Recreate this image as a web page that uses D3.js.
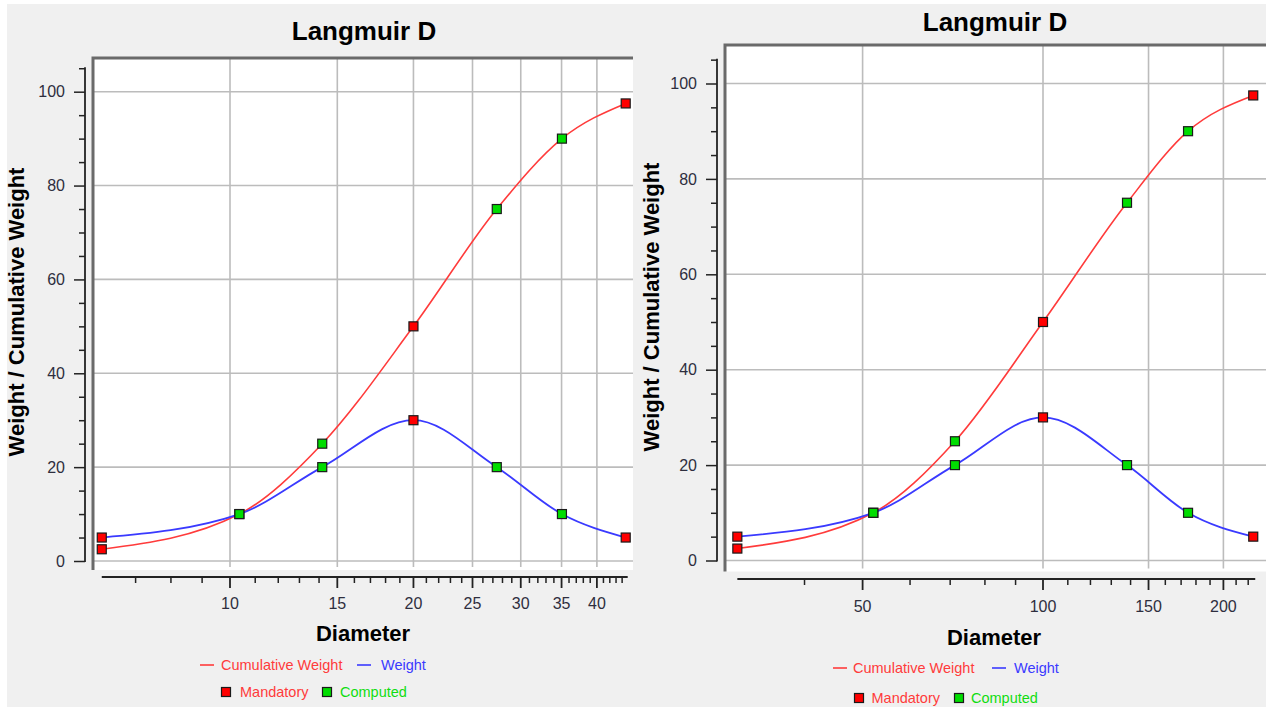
<!DOCTYPE html>
<html>
<head>
<meta charset="utf-8">
<script src="https://cdn.jsdelivr.net/npm/d3@7"></script>
<style>
  html, body { margin:0; padding:0; background:#fff; }
  svg { display:block; font-family:"Liberation Sans", Arial, sans-serif; }
</style>
</head>
<body>
<svg id="chart" width="1266" height="707"></svg>
<script>
// values
var diamLeft  = [6.16, 10.36, 14.17, 20, 27.4, 35.05, 44.6];
var diamRight = [30.9, 52.1, 71.3, 100, 138.1, 174.6, 224.3];
var cumWeight = [2.5, 10, 25, 50, 75, 90, 97.5];
var weight    = [5, 10, 20, 30, 20, 10, 5];
var pointKind = ['Mandatory','Computed','Computed','Mandatory','Computed','Computed','Mandatory'];
var leftMajor  = [10, 15, 20, 25, 30, 35, 40];
var rightMajor = [50, 100, 150, 200];
var yTicks = [0, 20, 40, 60, 80, 100];

var cRed = '#ff3b3b', cBlue = '#3a3aff', cGreen = '#11dd11';
var fillFor = { Mandatory:'#ff0000', Computed:'#00dd00' };

var svg = d3.select('#chart');
svg.append('rect').attr('x',7).attr('y',4).attr('width',1259).attr('height',703).attr('fill','#f0f0f0');

var panels = [
  { diam: diamLeft, major: leftMajor,
    minor: d3.range(7, 45).filter(function(v){ return leftMajor.indexOf(v) < 0; }),
    xDom:[10,40], xRange:[230,596.9], yRange:[561,91.7],
    plot:{x0:93, x1:633, y0:58, y1:570},
    yAxisX:85, xAxisY:577, xLabelY:609, yLabelX:65,
    title:{x:364, y:40}, xTitle:{x:363, y:641}, yTitle:{x:24, y:312},
    leg:{r1:665, r2:692, d1:200, t1:221, d2:357, t2:381, s1:226, ts1:240, s2:327, ts2:340} },
  { diam: diamRight, major: rightMajor,
    minor: d3.range(40, 221, 10).filter(function(v){ return rightMajor.indexOf(v) < 0; }),
    xDom:[50,100], xRange:[862.6,1043], yRange:[560.5,83.5],
    plot:{x0:725, x1:1266, y0:45, y1:571.5},
    yAxisX:717, xAxisY:579, xLabelY:612, yLabelX:697,
    title:{x:995, y:31}, xTitle:{x:994, y:645}, yTitle:{x:659, y:307},
    leg:{r1:668, r2:698, d1:833, t1:853, d2:992, t2:1014, s1:859, ts1:871.5, s2:959, ts2:971} }
];

panels.forEach(function(p){
  var g = svg.append('g');
  var x = d3.scaleLog().domain(p.xDom).range(p.xRange);
  var y = d3.scaleLinear().domain([0,100]).range(p.yRange);
  var pl = p.plot;

  // plot area
  g.append('rect').attr('x',pl.x0).attr('y',pl.y0).attr('width',pl.x1-pl.x0).attr('height',pl.y1-pl.y0).attr('fill','#fff');

  // grid
  g.selectAll('.hg').data(yTicks).enter().append('line')
    .attr('x1',pl.x0).attr('x2',pl.x1)
    .attr('y1',function(d){ return y(d); }).attr('y2',function(d){ return y(d); })
    .attr('stroke','#bcbcbc').attr('stroke-width',1.6);
  g.selectAll('.vg').data(p.major).enter().append('line')
    .attr('x1',function(d){ return x(d); }).attr('x2',function(d){ return x(d); })
    .attr('y1',pl.y0).attr('y2',pl.y1-3)
    .attr('stroke','#bcbcbc').attr('stroke-width',1.6);

  // frame (top + left)
  g.append('path').attr('d','M'+pl.x0+','+pl.y1+'V'+pl.y0+'H'+pl.x1)
    .attr('fill','none').attr('stroke','#6a6a6a').attr('stroke-width',3);

  // y axis
  var yAx = g.append('g').attr('transform','translate('+p.yAxisX+',0)');
  yAx.call(d3.axisLeft(y).tickValues(d3.range(0,106,5)).tickSize(6).tickFormat(''))
  yAx.select('.domain').remove();
  yAx.selectAll('.tick line').attr('stroke','#222').attr('stroke-width',1.5)
    .attr('x2', function(d){ return d % 20 === 0 ? -11 : -6; });
  yAx.append('line').attr('x1',0).attr('x2',0).attr('y1',y(0)+1).attr('y2',y(105)-1)
    .attr('stroke','#222').attr('stroke-width',1.8);
  g.selectAll('.yl').data(yTicks).enter().append('text')
    .attr('x',p.yLabelX).attr('y',function(d){ return y(d)+5.7; })
    .attr('text-anchor','end').attr('font-size',16).attr('fill','#2e2e3e')
    .text(function(d){ return d; });

  // x axis
  var ext = d3.extent(p.diam);
  var xAx = g.append('g').attr('transform','translate(0,'+p.xAxisY+')');
  xAx.append('line').attr('x1',x(ext[0])).attr('x2',x(ext[1])+2)
    .attr('stroke','#222').attr('stroke-width',2);
  xAx.selectAll('.mn').data(p.minor).enter().append('line')
    .attr('x1',function(d){ return x(d); }).attr('x2',function(d){ return x(d); })
    .attr('y1',0).attr('y2',6).attr('stroke','#222').attr('stroke-width',1.5);
  xAx.selectAll('.mj').data(p.major).enter().append('line')
    .attr('x1',function(d){ return x(d); }).attr('x2',function(d){ return x(d); })
    .attr('y1',0).attr('y2',11).attr('stroke','#222').attr('stroke-width',1.8);
  g.selectAll('.xl').data(p.major).enter().append('text')
    .attr('x',function(d){ return x(d); }).attr('y',p.xLabelY)
    .attr('text-anchor','middle').attr('font-size',16).attr('fill','#2e2e3e')
    .text(function(d){ return d; });

  // titles
  g.append('text').attr('x',p.title.x).attr('y',p.title.y).attr('text-anchor','middle')
    .attr('font-size',26).attr('font-weight','bold').attr('fill','#000').text('Langmuir D');
  g.append('text').attr('x',p.xTitle.x).attr('y',p.xTitle.y).attr('text-anchor','middle')
    .attr('font-size',22).attr('font-weight','bold').attr('fill','#000').text('Diameter');
  g.append('text').attr('transform','translate('+p.yTitle.x+','+p.yTitle.y+') rotate(-90)')
    .attr('text-anchor','middle').attr('font-size',22).attr('font-weight','bold').attr('fill','#000')
    .text('Weight / Cumulative Weight');

  // curves
  var cumPts = p.diam.map(function(d,i){ return {d:d, v:cumWeight[i], k:pointKind[i]}; });
  var wPts = p.diam.map(function(d,i){ return {d:d, v:weight[i], k:pointKind[i]}; });
  var line = d3.line().x(function(d){ return x(d.d); }).y(function(d){ return y(d.v); }).curve(d3.curveMonotoneX);
  g.append('path').attr('d',line(cumPts)).attr('fill','none').attr('stroke',cRed).attr('stroke-width',1.6);
  g.append('path').attr('d',line(wPts)).attr('fill','none').attr('stroke',cBlue).attr('stroke-width',1.8);

  var sq = 9;
  g.selectAll('.pt').data(wPts.concat(cumPts)).enter().append('rect')
    .attr('x',function(d){ return x(d.d)-sq/2; }).attr('y',function(d){ return y(d.v)-sq/2; })
    .attr('width',sq).attr('height',sq)
    .attr('fill',function(d){ return fillFor[d.k]; })
    .attr('stroke','#1a1a1a').attr('stroke-width',1.2);

  // legend
  var L = p.leg;
  g.append('line').attr('x1',L.d1).attr('x2',L.d1+14).attr('y1',L.r1).attr('y2',L.r1).attr('stroke',cRed).attr('stroke-width',1.6);
  g.append('text').attr('x',L.t1).attr('y',L.r1+5).attr('font-size',14.5).attr('fill',cRed).text('Cumulative Weight');
  g.append('line').attr('x1',L.d2).attr('x2',L.d2+14).attr('y1',L.r1).attr('y2',L.r1).attr('stroke',cBlue).attr('stroke-width',1.6);
  g.append('text').attr('x',L.t2).attr('y',L.r1+5).attr('font-size',14.5).attr('fill',cBlue).text('Weight');
  g.append('rect').attr('x',L.s1-4.5).attr('y',L.r2-4.5).attr('width',9).attr('height',9)
    .attr('fill',fillFor.Mandatory).attr('stroke','#1a1a1a').attr('stroke-width',1.2);
  g.append('text').attr('x',L.ts1).attr('y',L.r2+5).attr('font-size',14.5).attr('fill',cRed).text('Mandatory');
  g.append('rect').attr('x',L.s2-4.5).attr('y',L.r2-4.5).attr('width',9).attr('height',9)
    .attr('fill',fillFor.Computed).attr('stroke','#1a1a1a').attr('stroke-width',1.2);
  g.append('text').attr('x',L.ts2).attr('y',L.r2+5).attr('font-size',14.5).attr('fill',cGreen).text('Computed');
});
</script>
</body>
</html>
